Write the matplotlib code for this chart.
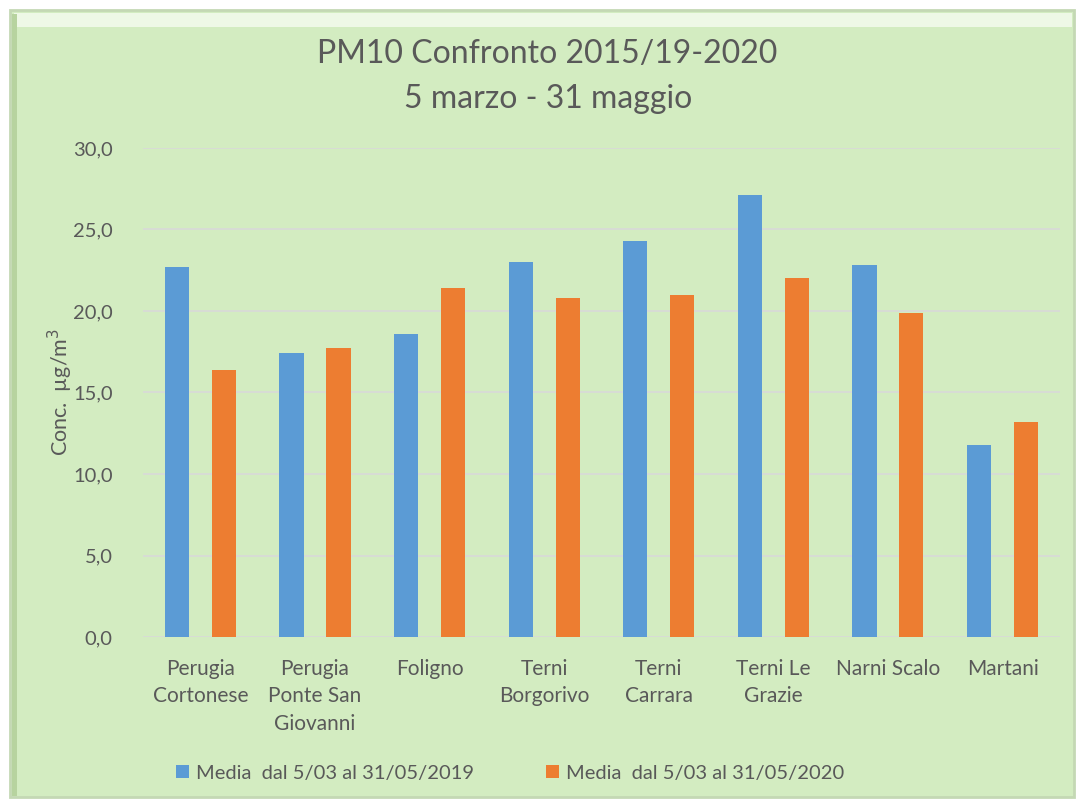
import matplotlib.pyplot as plt
from matplotlib.patches import Rectangle
import numpy as np

# --- Data ---
stations = ['Perugia\nCortonese', 'Perugia\nPonte San\nGiovanni', 'Foligno',
            'Terni\nBorgorivo', 'Terni\nCarrara', 'Terni Le\nGrazie',
            'Narni Scalo', 'Martani']
media_2019 = [22.7, 17.4, 18.6, 23.0, 24.3, 27.1, 22.8, 11.8]
media_2020 = [16.4, 17.7, 21.4, 20.8, 21.0, 22.0, 19.9, 13.2]
label_2019 = 'Media  dal 5/03 al 31/05/2019'
label_2020 = 'Media  dal 5/03 al 31/05/2020'
yticks = [0, 5, 10, 15, 20, 25, 30]

TEXT = '#595959'
BG = '#d3ecc1'
plt.rcParams['font.family'] = ['Lato', 'DejaVu Sans']

fig = plt.figure(figsize=(10.76, 8.02), dpi=100)
fig.patch.set_facecolor('white')

# chart frame with a light bevel
fig.patches.append(Rectangle((0.009, 0.006), 0.989, 0.982, transform=fig.transFigure,
                             facecolor=BG, edgecolor='#c4d8b4', linewidth=2, zorder=-3))
fig.patches.append(Rectangle((0.013, 0.966), 0.983, 0.018, transform=fig.transFigure,
                             facecolor='#eef8e6', edgecolor='none', zorder=-2))
fig.patches.append(Rectangle((0.011, 0.008), 0.005, 0.975, transform=fig.transFigure,
                             facecolor='#b7d39f', edgecolor='none', zorder=-2))

ax = fig.add_axes([0.133, 0.2057, 0.852, 0.6098])
ax.set_facecolor('none')

x = np.arange(len(stations))
w = 0.21
ax.bar(x - 0.205, media_2019, w, color='#5b9bd5', label=label_2019, zorder=3)
ax.bar(x + 0.205, media_2020, w, color='#ed7d31', label=label_2020, zorder=3)

ax.set_xlim(-0.5, len(stations) - 0.5)
ax.set_ylim(0, 30)
ax.set_yticks(yticks)
ax.set_yticklabels([f'{v:.1f}'.replace('.', ',') for v in yticks], fontsize=14.5, color=TEXT)
ax.set_xticks(x)
ax.set_xticklabels(stations, fontsize=15, color=TEXT, linespacing=1.45)
ax.tick_params(axis='both', length=0)
ax.tick_params(axis='x', pad=16)
ax.tick_params(axis='y', pad=22)
ax.grid(axis='y', color='#d9d9d9', linewidth=1.2, zorder=0)
for s in ax.spines.values():
    s.set_visible(False)

ax.set_ylabel('Conc.  µg/m$^3$', fontsize=15.5, color=TEXT)
ax.yaxis.set_label_coords(-0.074, 0.5)

fig.text(0.509, 0.933, 'PM10 Confronto 2015/19-2020', ha='center', va='center',
         fontsize=23, color=TEXT)
fig.text(0.509, 0.876, '5 marzo - 31 maggio', ha='center', va='center',
         fontsize=23, color=TEXT)

fig.legend(loc='center', bbox_to_anchor=(0.474, 0.036), ncol=2, frameon=False,
           fontsize=14.5, labelcolor=TEXT, handlelength=0.65, handleheight=0.65,
           handletextpad=0.35, columnspacing=3.6)

fig.savefig('out.png', dpi=100)
